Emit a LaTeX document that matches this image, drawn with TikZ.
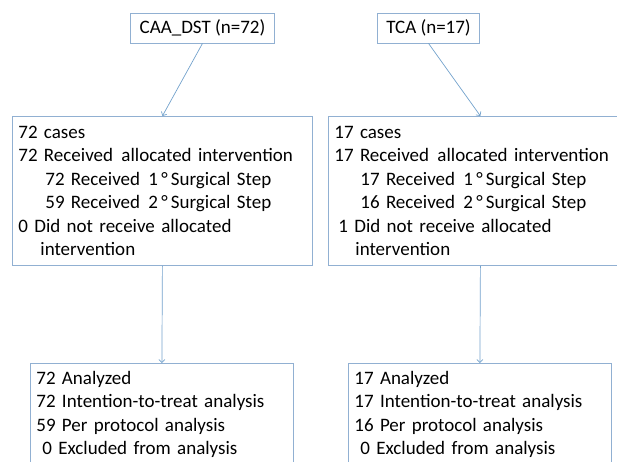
\documentclass[tikz,border=0pt]{standalone}
\usepackage{fontspec}
\setmainfont{Carlito}
\usetikzlibrary{arrows.meta}
\usetikzlibrary{positioning}
\definecolor{boxline}{RGB}{145,176,210}
\definecolor{arrowline}{RGB}{115,162,204}

\begin{document}
\begin{tikzpicture}[x=1pt,y=-1pt,
	font={\fontsize{19}{23.5}\selectfont},
	group/.style={draw=boxline, line width=0.8pt, inner xsep=9pt, minimum height=30pt},
	info/.style={draw=boxline, line width=0.8pt, anchor=north west, align=left, inner xsep=6pt, inner ysep=0pt},
	flow/.style={draw=arrowline, line width=0.7pt, -{Straight Barb[length=3pt,width=6pt]}}]
	\useasboundingbox (0,0) rectangle (617,461);
	\node[group] (CAA) at (202.5,28) {CAA\_DST (n=72)};
	\node[group] (TCA) at (428.5,28) {TCA (n=17)};
	\node[info, text width=288pt, minimum height=149pt] (CAAgiven) at (12,116)
		{72 cases\\
		72 Received\ \hspace{2pt}allocated intervention\\
		\hspace*{27pt}72 Received\ \hspace{2pt}1\,°\,Surgical Step\\
		\hspace*{27pt}59 Received\ \hspace{2pt}2\,°\,Surgical Step\\
		0 Did not receive allocated\\
		\hspace*{22pt}intervention};
	\node[info, text width=292pt, minimum height=149pt] (TCAgiven) at (328,116)
		{17 cases\\
		17 Received\ \hspace{2pt}allocated intervention\\
		\hspace*{26pt}17 Received\ \hspace{2pt}1\,°\,Surgical Step\\
		\hspace*{26pt}16 Received\ \hspace{2pt}2\,°\,Surgical Step\\
		\hspace*{4pt}1 Did not receive allocated\\
		\hspace*{21pt}intervention};
	\node[info, text width=251pt, minimum height=102pt] (CAAdone) at (30,363)
		{72 Analyzed\\
		72 Intention-to-treat analysis\\
		59 Per protocol analysis\\
		\hspace*{6pt}0 Excluded from analysis};
	\node[info, text width=251pt, minimum height=102pt] (TCAdone) at (348,363)
		{17 Analyzed\\
		17 Intention-to-treat analysis\\
		16 Per protocol analysis\\
		\hspace*{6pt}0 Excluded from analysis};
	\draw[flow] (CAA.south) -- (CAAgiven.north);
	\draw[flow] (TCA.south) -- (TCAgiven.north);
	\draw[flow] (CAAgiven.south) -- (CAAdone.north);
	\draw[flow] (TCAgiven.south) -- (TCAdone.north);
\end{tikzpicture}
\end{document}
